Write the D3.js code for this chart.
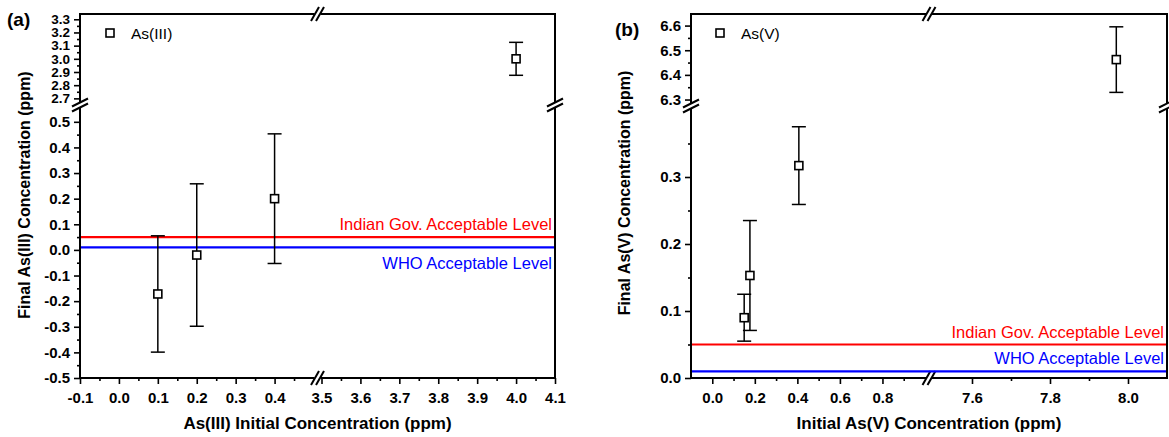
<!DOCTYPE html>
<html>
<head>
<meta charset="utf-8">
<script src="https://cdn.jsdelivr.net/npm/d3@7"></script>
<style>
body { margin: 0; background: #fff; }
svg { display: block; font-family: "Liberation Sans", Arial, sans-serif; }
.tick line { stroke: #000; stroke-width: 1.6px; }
</style>
</head>
<body>
<svg id="chart" width="1169" height="437"></svg>
<script>
// panel (a): As(III)
var a_x = [0.1, 0.2, 0.4, 4.0];
var a_y = [-0.172, -0.02, 0.2, 3.0];
var a_err = [0.227, 0.278, 0.253, 0.125];
// panel (b): As(V)
var b_x = [0.15, 0.177, 0.407, 7.97];
var b_y = [0.09, 0.153, 0.317, 6.462];
var b_err = [0.035, 0.082, 0.058, 0.133];

// guideline levels (ppm)
var indianLevel = 0.05;
var whoLevel = 0.01;

// tick labels
var a_xTicksLeft = [-0.1, 0.0, 0.1, 0.2, 0.3, 0.4];
var a_xTicksRight = [3.5, 3.6, 3.7, 3.8, 3.9, 4.0, 4.1];
var a_yTicksLow = [-0.5, -0.4, -0.3, -0.2, -0.1, 0.0, 0.1, 0.2, 0.3, 0.4, 0.5];
var a_yTicksHigh = [2.7, 2.8, 2.9, 3.0, 3.1, 3.2, 3.3];
var b_xTicksLeft = [0.0, 0.2, 0.4, 0.6, 0.8];
var b_xTicksRight = [7.6, 7.8, 8.0];
var b_yTicksLow = [0.0, 0.1, 0.2, 0.3];
var b_yTicksHigh = [6.3, 6.4, 6.5, 6.6];

var svg = d3.select("#chart");

function mids(t) {
    var out = [];
    for (var i = 0; i < t.length - 1; i++) out.push((t[i] + t[i + 1]) / 2);
    return out;
}
function fmt(d) { return d.toFixed(1); }

function drawPanel(p) {
    var g = svg.append("g");
    var L = p.left, R = p.right, T = p.top, B = p.bottom;

    var xl = d3.scaleLinear().domain(p.xLeftDom).range([L, p.xBreak - p.gap / 2]);
    var xr = d3.scaleLinear().domain(p.xRightDom).range([p.xBreak + p.gap / 2, R]);
    var yl = d3.scaleLinear().domain(p.yLowDom).range([B, p.yBreak + p.gap / 2]);
    var yh = d3.scaleLinear().domain(p.yHighDom).range([p.yBreak - p.gap / 2, T]);
    var X = function (v) { return v > p.xLeftDom[1] ? xr(v) : xl(v); };
    var Y = function (v) { return v > p.yLowDom[1] ? yh(v) : yl(v); };

    // axes: major + minor ticks per segment
    function axis(maker, scale, major, minor, tr, fs) {
        var ga = g.append("g").attr("transform", tr);
        ga.call(maker(scale).tickValues(major).tickSize(6).tickPadding(4).tickFormat(fmt));
        ga.attr("font-size", fs).attr("font-family", "Liberation Sans, Arial, sans-serif");
        ga.select(".domain").remove();
        ga.selectAll("text").attr("font-weight", "bold").attr("fill", "#000");
        var gm = g.append("g").attr("transform", tr)
            .call(maker(scale).tickValues(minor).tickSize(3).tickFormat(""));
        gm.select(".domain").remove();
        return ga;
    }
    var bx = "translate(0," + B + ")", ly = "translate(" + L + ",0)";
    axis(d3.axisBottom, xl, p.xTicksLeft, p.xMinorLeft, bx, 15).selectAll("text").attr("dy", "1.0em");
    axis(d3.axisBottom, xr, p.xTicksRight, p.xMinorRight, bx, 15).selectAll("text").attr("dy", "1.0em");
    axis(d3.axisLeft, yl, p.yTicksLow, p.yMinorLow, ly, 15);
    axis(d3.axisLeft, yh, p.yTicksHigh, p.yMinorHigh, ly, p.hiFont);

    // frame lines, broken at the gaps
    var segs = [
        [L, B, p.xBreak - p.gap / 2, B], [p.xBreak + p.gap / 2, B, R, B],
        [L, T, p.xBreak - p.gap / 2, T], [p.xBreak + p.gap / 2, T, R, T],
        [L, B, L, p.yBreak + p.gap / 2], [L, p.yBreak - p.gap / 2, L, T],
        [R, B, R, p.yBreak + p.gap / 2], [R, p.yBreak - p.gap / 2, R, T]
    ];
    g.selectAll(".frame").data(segs).enter().append("line")
        .attr("x1", function (d) { return d[0]; }).attr("y1", function (d) { return d[1]; })
        .attr("x2", function (d) { return d[2]; }).attr("y2", function (d) { return d[3]; })
        .attr("stroke", "#000").attr("stroke-width", 2).attr("stroke-linecap", "square");

    // break marks
    function hBreak(cx, cy) {
        [-2.5, 2.5].forEach(function (o) {
            g.append("line").attr("x1", cx + o - 4).attr("y1", cy + 7).attr("x2", cx + o + 4).attr("y2", cy - 7)
                .attr("stroke", "#000").attr("stroke-width", 2);
        });
    }
    function vBreak(cx, cy) {
        [-2.5, 2.5].forEach(function (o) {
            g.append("line").attr("x1", cx - 8).attr("y1", cy + o + 4).attr("x2", cx + 8).attr("y2", cy + o - 4)
                .attr("stroke", "#000").attr("stroke-width", 2);
        });
    }
    hBreak(p.xBreak, B); hBreak(p.xBreak, T);
    vBreak(L, p.yBreak); vBreak(R, p.yBreak);

    // guideline levels
    var levels = [
        { v: indianLevel, c: "#ff0000", label: "Indian Gov. Acceptable Level", dy: p.indianDy },
        { v: whoLevel, c: "#0000ff", label: "WHO Acceptable Level", dy: p.whoDy }
    ];
    levels.forEach(function (d) {
        g.append("line").attr("x1", L + 1).attr("x2", R - 1).attr("y1", Y(d.v)).attr("y2", Y(d.v))
            .attr("stroke", d.c).attr("stroke-width", 2.2);
        g.append("text").attr("x", R - 3).attr("y", Y(d.v) + d.dy).attr("text-anchor", "end")
            .attr("fill", d.c).attr("font-size", 16.5).text(d.label);
    });

    // error bars and markers
    var pts = p.xs.map(function (x, i) { return { x: x, y: p.ys[i], e: p.errs[i] }; });
    var eb = g.selectAll(".err").data(pts).enter().append("g");
    eb.append("line").attr("x1", function (d) { return X(d.x); }).attr("x2", function (d) { return X(d.x); })
        .attr("y1", function (d) { return Y(d.y - d.e); }).attr("y2", function (d) { return Y(d.y + d.e); })
        .attr("stroke", "#000").attr("stroke-width", 1.5);
    [-1, 1].forEach(function (s) {
        eb.append("line").attr("x1", function (d) { return X(d.x) - 7; }).attr("x2", function (d) { return X(d.x) + 7; })
            .attr("y1", function (d) { return Y(d.y + s * d.e); }).attr("y2", function (d) { return Y(d.y + s * d.e); })
            .attr("stroke", "#000").attr("stroke-width", 1.5);
    });
    eb.append("rect").attr("x", function (d) { return X(d.x) - 4; }).attr("y", function (d) { return Y(d.y) - 4; })
        .attr("width", 8).attr("height", 8).attr("fill", "#fff").attr("stroke", "#000").attr("stroke-width", 1.6);

    // legend
    g.append("rect").attr("x", p.legX - 4).attr("y", p.legY - 4).attr("width", 8).attr("height", 8)
        .attr("fill", "#fff").attr("stroke", "#000").attr("stroke-width", 1.6);
    g.append("text").attr("x", p.legX + 21).attr("y", p.legY + 5.5).attr("font-size", 15.5).text(p.legend);

    // titles
    g.append("text").attr("x", (L + R) / 2).attr("y", 429).attr("text-anchor", "middle")
        .attr("font-size", 17).attr("font-weight", "bold").text(p.xTitle);
    g.append("text").attr("transform", "translate(" + p.yTitleX + "," + p.yTitleY + ") rotate(-90)")
        .attr("text-anchor", "middle").attr("font-size", 16).attr("font-weight", "bold").text(p.yTitle);
    g.append("text").attr("x", p.tagX).attr("y", p.tagY).attr("font-size", 19).attr("font-weight", "bold").text(p.tag);
}

drawPanel({
    left: 80, right: 555, top: 14, bottom: 378, gap: 8,
    xBreak: 317.5, yBreak: 105, hiFont: 13.5,
    xLeftDom: [-0.1, 0.5], xRightDom: [3.5, 4.1],
    yLowDom: [-0.5, 0.55], yHighDom: [2.68, 3.34],
    xTicksLeft: a_xTicksLeft, xMinorLeft: mids(a_xTicksLeft).concat([0.45]),
    xTicksRight: a_xTicksRight, xMinorRight: mids(a_xTicksRight),
    yTicksLow: a_yTicksLow, yMinorLow: mids(a_yTicksLow),
    yTicksHigh: a_yTicksHigh, yMinorHigh: mids(a_yTicksHigh),
    xs: a_x, ys: a_y, errs: a_err,
    indianDy: -7, whoDy: 22,
    legX: 110, legY: 33, legend: "As(III)",
    xTitle: "As(III) Initial Concentration (ppm)",
    yTitle: "Final As(III) Concentration (ppm)", yTitleX: 30, yTitleY: 195,
    tag: "(a)", tagX: 7, tagY: 26
});

drawPanel({
    left: 691, right: 1167, top: 14, bottom: 378, gap: 8,
    xBreak: 929, yBreak: 106, hiFont: 15,
    xLeftDom: [-0.1, 1.0], xRightDom: [7.5, 8.1],
    yLowDom: [0, 0.4], yHighDom: [6.29, 6.647],
    xTicksLeft: b_xTicksLeft, xMinorLeft: mids(b_xTicksLeft).concat([0.9]),
    xTicksRight: b_xTicksRight, xMinorRight: mids(b_xTicksRight),
    yTicksLow: b_yTicksLow, yMinorLow: mids(b_yTicksLow).concat([0.35]),
    yTicksHigh: b_yTicksHigh, yMinorHigh: mids(b_yTicksHigh),
    xs: b_x, ys: b_y, errs: b_err,
    indianDy: -7, whoDy: -7,
    legX: 720, legY: 33, legend: "As(V)",
    xTitle: "Initial As(V) Concentration (ppm)",
    yTitle: "Final As(V) Concentration (ppm)", yTitleX: 630, yTitleY: 193,
    tag: "(b)", tagX: 615, tagY: 36
});
</script>
</body>
</html>
